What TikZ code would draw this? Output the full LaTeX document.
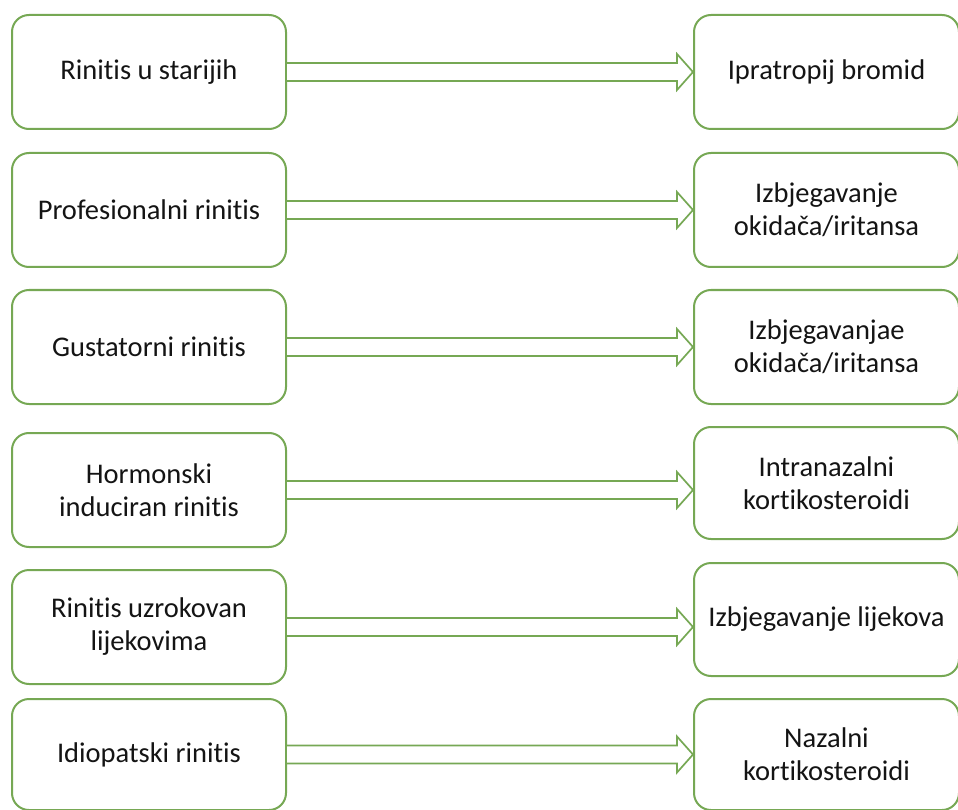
\documentclass[tikz,border=0pt]{standalone}
\usepackage{fontspec}
\setmainfont{Carlito}[Ligatures=NoCommon]
\usetikzlibrary{calc}
\definecolor{boxgreen}{RGB}{118,168,84}
\definecolor{txt}{RGB}{20,20,20}
\tikzset{
  box/.style={draw=boxgreen, line width=2pt, rounded corners=17pt, fill=white,
    anchor=north west, inner sep=0pt, align=center, text=txt,
    font=\fontsize{28.5}{33}\selectfont},
  lbox/.style={box, minimum width=274pt, minimum height=114pt},
  rbox/.style={box, minimum width=265pt, minimum height=#1},
  rbox/.default=114pt,
  arr/.style={draw=boxgreen, line width=1.7pt, line join=miter, fill=white},
}
\newcommand{\blockarrow}[2]{%
  \draw[arr] ($(#1.east)+(0,9)$) -- ($(#1.east -| #2.west)+(-16,9)$) -- ++(0,9)
    -- (#1.east -| #2.west) -- ++(-16,-18) -- ++(0,9) -- ($(#1.east)+(0,-9)$);}
\begin{document}
\begin{tikzpicture}[x=1pt,y=1pt]
\useasboundingbox (0,0) rectangle (958,-810);
% left column
\node[lbox] (l1) at (11,-14)  {Rinitis u starijih};
\node[lbox] (l2) at (11,-152) {Profesionalni rinitis};
\node[lbox] (l3) at (11,-289) {Gustatorni rinitis};
\node[lbox] (l4) at (11,-432) {Hormonski\\induciran rinitis};
\node[lbox] (l5) at (11,-569) {Rinitis uzrokovan\\lijekovima};
\node[lbox, minimum height=111pt] (l6) at (11,-698) {Idiopatski rinitis};
% right column
\node[rbox] (r1) at (693,-14)  {Ipratropij bromid};
\node[rbox] (r2) at (693,-152) {Izbjegavanje\\okidača/iritansa};
\node[rbox] (r3) at (693,-289) {Izbjegavanjae\\okidača/iritansa};
\node[rbox=112pt] (r4) at (693,-426) {Intranazalni\\kortikosteroidi};
\node[rbox=113pt] (r5) at (693,-562) {Izbjegavanje lijekova};
\node[rbox=111pt] (r6) at (693,-698) {Nazalni\\kortikosteroidi};
% arrows
\blockarrow{l1}{r1}
\blockarrow{l2}{r2}
\blockarrow{l3}{r3}
\blockarrow{l4}{r4}
\blockarrow{l5}{r5}
\blockarrow{l6}{r6}
\end{tikzpicture}
\end{document}
